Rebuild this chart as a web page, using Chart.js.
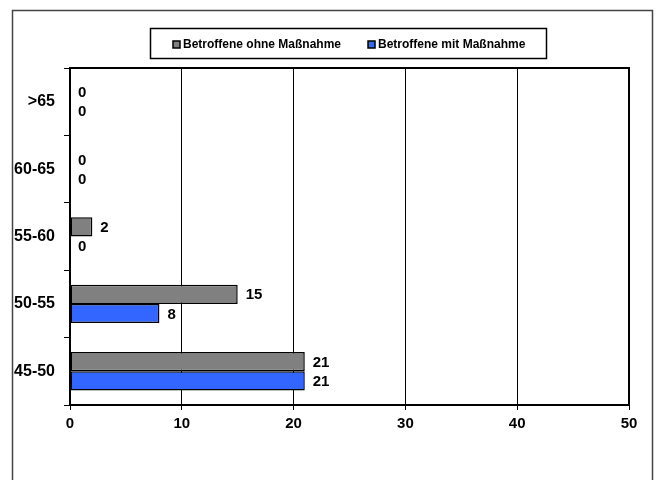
<!DOCTYPE html>
<html>
<head>
<meta charset="utf-8">
<script src="https://cdn.jsdelivr.net/npm/chart.js@4.4.1/dist/chart.umd.min.js"></script>
<style>
  html, body { margin: 0; padding: 0; background: #fff; }
  #wrap { position: absolute; left: 0; top: 0; width: 659px; height: 480px; }
</style>
</head>
<body>
<div id="wrap"><canvas id="chart" width="659" height="480"></canvas></div>
<script>
// Age groups, bottom to top as in the picture
const categories = ['>65', '60-65', '55-60', '50-55', '45-50'];
const seriesNames = ['Betroffene ohne Maßnahme', 'Betroffene mit Maßnahme'];
const ohneMassnahme = [0, 0, 2, 15, 21];
const mitMassnahme = [0, 0, 0, 8, 21];
const xTicks = [0, 10, 20, 30, 40, 50];

const FONT = "'Liberation Sans', Arial, sans-serif";
const colors = ['#808080', '#3366ff'];

// Frame around the whole figure plus the plot area box
const framePlugin = {
    id: 'frame',
    beforeDraw(chart) {
        const ctx = chart.ctx;
        ctx.save();
        ctx.fillStyle = '#fff';
        ctx.fillRect(0, 0, chart.width, chart.height);
        ctx.strokeStyle = '#444';
        ctx.lineWidth = 1.5;
        ctx.strokeRect(12.5, 10.5, 640, 480);
        ctx.restore();
    },
    afterDraw(chart) {
        const a = chart.chartArea;
        const ctx = chart.ctx;
        ctx.save();
        ctx.strokeStyle = '#000';
        ctx.lineWidth = 2;
        ctx.beginPath();
        ctx.moveTo(a.left, a.top);
        ctx.lineTo(a.right, a.top);
        ctx.lineTo(a.right, a.bottom);
        ctx.stroke();
        ctx.restore();
    }
};

// Value labels right of each bar end
const valueLabelPlugin = {
    id: 'valueLabels',
    afterDatasetsDraw(chart) {
        const ctx = chart.ctx;
        ctx.save();
        ctx.font = 'bold 15px ' + FONT;
        ctx.fillStyle = '#000';
        ctx.textAlign = 'left';
        ctx.textBaseline = 'middle';
        chart.data.datasets.forEach((ds, di) => {
            const meta = chart.getDatasetMeta(di);
            meta.data.forEach((bar, i) => {
                ctx.fillText(String(ds.data[i]), bar.x + 8, bar.y + 1);
            });
        });
        ctx.restore();
    }
};

// Boxed legend centred over the plot area
const boxLegendPlugin = {
    id: 'boxLegend',
    afterDraw(chart) {
        const ctx = chart.ctx;
        const a = chart.chartArea;
        ctx.save();
        ctx.strokeStyle = '#000';
        ctx.lineWidth = 1.5;
        ctx.strokeRect(150.5, 28.5, 396, 30);
        ctx.font = 'bold 12px ' + FONT;
        ctx.textBaseline = 'middle';
        const gap = 27;
        const widths = chart.data.datasets.map(ds => 10 + ctx.measureText(ds.label).width);
        const total = widths.reduce((s, w) => s + w, 0) + gap;
        let x = Math.round((a.left + a.right) / 2 - total / 2);
        const y = 45;
        chart.data.datasets.forEach((ds, i) => {
            ctx.fillStyle = ds.backgroundColor;
            ctx.fillRect(x, y - 4, 7, 7);
            ctx.lineWidth = 1.5;
            ctx.strokeStyle = '#000';
            ctx.strokeRect(x, y - 4, 7, 7);
            ctx.fillStyle = '#000';
            ctx.fillText(ds.label, x + 10, y);
            x += widths[i] + gap;
        });
        ctx.restore();
    }
};

new Chart(document.getElementById('chart'), {
    type: 'bar',
    data: {
        labels: categories,
        datasets: [
            {
                label: seriesNames[0],
                data: ohneMassnahme,
                backgroundColor: colors[0],
                borderColor: '#000',
                borderWidth: 1.5,
                borderSkipped: false,
                categoryPercentage: 0.57,
                barPercentage: 1
            },
            {
                label: seriesNames[1],
                data: mitMassnahme,
                backgroundColor: colors[1],
                borderColor: '#000',
                borderWidth: 1.5,
                borderSkipped: false,
                categoryPercentage: 0.57,
                barPercentage: 1
            }
        ]
    },
    options: {
        indexAxis: 'y',
        responsive: false,
        animation: false,
        layout: { padding: { left: 0, right: 30, top: 68, bottom: 45 } },
        scales: {
            x: {
                min: 0,
                max: 50,
                afterBuildTicks(scale) {
                    scale.ticks = xTicks.map(v => ({ value: v }));
                },
                afterFit(scale) { scale.height = 30; },
                grid: { color: '#000', lineWidth: 1, tickLength: 5 },
                border: { color: '#000', width: 2 },
                ticks: {
                    padding: 5,
                    color: '#000',
                    font: { family: FONT, size: 15, weight: 'bold' }
                }
            },
            y: {
                afterFit(scale) { scale.width = 70; },
                offset: true,
                grid: { offset: true, drawOnChartArea: false, color: '#000', tickLength: 6 },
                border: { color: '#000', width: 2 },
                ticks: {
                    padding: 9,
                    color: '#000',
                    font: { family: FONT, size: 16, weight: 'bold' }
                }
            }
        },
        plugins: {
            legend: { display: false },
            tooltip: { enabled: false }
        }
    },
    plugins: [framePlugin, valueLabelPlugin, boxLegendPlugin]
});
</script>
</body>
</html>
